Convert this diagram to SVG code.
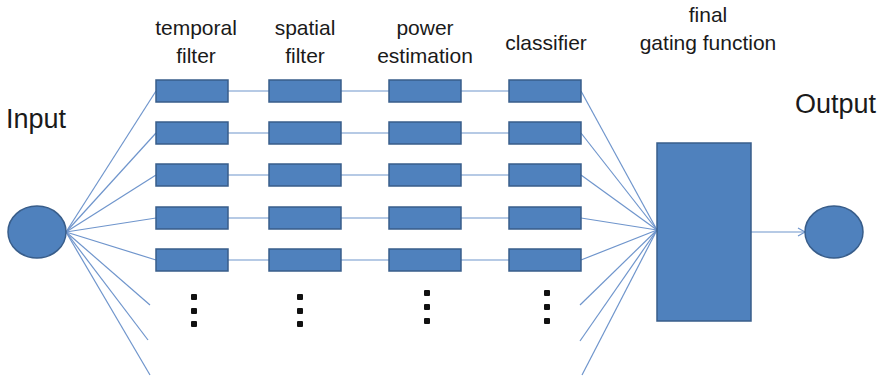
<svg xmlns="http://www.w3.org/2000/svg" width="888" height="379" viewBox="0 0 888 379">
<defs>
<style>
.n{fill:#4F81BD;stroke:#385D8A;stroke-width:1.5}
.c{stroke:#6F95CC;stroke-width:1.2;fill:none}
.t{font-family:"Liberation Sans",Arial,sans-serif;fill:#1a1a1a}
.h{font-size:21px;text-anchor:middle}
.b{font-size:27px}
.d{fill:#111}
</style>
<marker id="ar" markerWidth="10" markerHeight="10" refX="8" refY="5" orient="auto" markerUnits="userSpaceOnUse">
<path d="M1,1 L8,5 L1,9" fill="none" stroke="#6F95CC" stroke-width="1.2"/>
</marker>
</defs>
<rect width="888" height="379" fill="#fff"/>
<g id="connectors">
<line class="c" x1="66" y1="232" x2="156" y2="91"/>
<line class="c" x1="66" y1="232" x2="156" y2="133"/>
<line class="c" x1="66" y1="232" x2="156" y2="175"/>
<line class="c" x1="66" y1="232" x2="156" y2="218"/>
<line class="c" x1="66" y1="232" x2="156" y2="260"/>
<line class="c" x1="66" y1="232" x2="150" y2="305"/>
<line class="c" x1="66" y1="232" x2="148" y2="340"/>
<line class="c" x1="66" y1="232" x2="150" y2="375"/>
<g>
<line class="c" x1="228" y1="91" x2="269" y2="91"/><line class="c" x1="341" y1="91" x2="389" y2="91"/><line class="c" x1="461" y1="91" x2="509" y2="91"/>
<line class="c" x1="228" y1="133" x2="269" y2="133"/><line class="c" x1="341" y1="133" x2="389" y2="133"/><line class="c" x1="461" y1="133" x2="509" y2="133"/>
<line class="c" x1="228" y1="175" x2="269" y2="175"/><line class="c" x1="341" y1="175" x2="389" y2="175"/><line class="c" x1="461" y1="175" x2="509" y2="175"/>
<line class="c" x1="228" y1="218" x2="269" y2="218"/><line class="c" x1="341" y1="218" x2="389" y2="218"/><line class="c" x1="461" y1="218" x2="509" y2="218"/>
<line class="c" x1="228" y1="260" x2="269" y2="260"/><line class="c" x1="341" y1="260" x2="389" y2="260"/><line class="c" x1="461" y1="260" x2="509" y2="260"/>
</g>
<line class="c" x1="581" y1="91" x2="657" y2="230"/>
<line class="c" x1="581" y1="133" x2="657" y2="230"/>
<line class="c" x1="581" y1="175" x2="657" y2="230"/>
<line class="c" x1="581" y1="218" x2="657" y2="230"/>
<line class="c" x1="581" y1="260" x2="657" y2="230"/>
<line class="c" x1="580" y1="305" x2="657" y2="230"/>
<line class="c" x1="580" y1="341" x2="657" y2="230"/>
<line class="c" x1="582" y1="375" x2="657" y2="230"/>
<line class="c" x1="751" y1="232" x2="805" y2="232" marker-end="url(#ar)"/>
</g>
<g id="input"><ellipse class="n" cx="37" cy="232" rx="29" ry="26"/><text class="t b" x="6" y="128">Input</text></g>
<g id="output"><ellipse class="n" cx="834" cy="232" rx="29" ry="26"/><text class="t b" x="795" y="113">Output</text></g>
<g id="temporal-filter">
<text class="t h" x="196" y="35">temporal</text><text class="t h" x="196" y="63">filter</text>
<rect class="n" x="156" y="80" width="72" height="22"/><rect class="n" x="156" y="122" width="72" height="22"/><rect class="n" x="156" y="164" width="72" height="22"/><rect class="n" x="156" y="207" width="72" height="22"/><rect class="n" x="156" y="249" width="72" height="22"/>
<rect class="d" x="191" y="294" width="6" height="6" rx="1"/><rect class="d" x="191" y="308" width="6" height="6" rx="1"/><rect class="d" x="191" y="321" width="6" height="6" rx="1"/>
</g>
<g id="spatial-filter">
<text class="t h" x="305" y="35">spatial</text><text class="t h" x="305" y="63">filter</text>
<rect class="n" x="269" y="80" width="72" height="22"/><rect class="n" x="269" y="122" width="72" height="22"/><rect class="n" x="269" y="164" width="72" height="22"/><rect class="n" x="269" y="207" width="72" height="22"/><rect class="n" x="269" y="249" width="72" height="22"/>
<rect class="d" x="297" y="294" width="6" height="6" rx="1"/><rect class="d" x="297" y="308" width="6" height="6" rx="1"/><rect class="d" x="297" y="321" width="6" height="6" rx="1"/>
</g>
<g id="power-estimation">
<text class="t h" x="425" y="35">power</text><text class="t h" x="425" y="63">estimation</text>
<rect class="n" x="389" y="80" width="72" height="22"/><rect class="n" x="389" y="122" width="72" height="22"/><rect class="n" x="389" y="164" width="72" height="22"/><rect class="n" x="389" y="207" width="72" height="22"/><rect class="n" x="389" y="249" width="72" height="22"/>
<rect class="d" x="424" y="290" width="6" height="6" rx="1"/><rect class="d" x="424" y="304" width="6" height="6" rx="1"/><rect class="d" x="424" y="318" width="6" height="6" rx="1"/>
</g>
<g id="classifier">
<text class="t h" x="546" y="50">classifier</text>
<rect class="n" x="509" y="80" width="72" height="22"/><rect class="n" x="509" y="122" width="72" height="22"/><rect class="n" x="509" y="164" width="72" height="22"/><rect class="n" x="509" y="207" width="72" height="22"/><rect class="n" x="509" y="249" width="72" height="22"/>
<rect class="d" x="544" y="290" width="6" height="6" rx="1"/><rect class="d" x="544" y="304" width="6" height="6" rx="1"/><rect class="d" x="544" y="318" width="6" height="6" rx="1"/>
</g>
<g id="gating">
<text class="t h" x="708" y="22">final</text><text class="t h" x="708" y="50">gating function</text>
<rect class="n" x="657" y="143" width="94" height="178"/>
</g>
</svg>
